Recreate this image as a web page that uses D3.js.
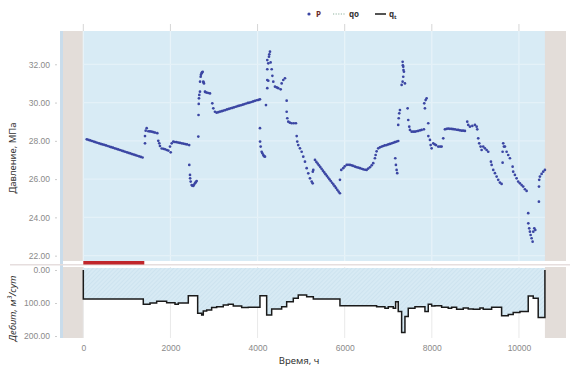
<!DOCTYPE html>
<html>
<head>
<meta charset="utf-8">
<script src="https://cdn.jsdelivr.net/npm/d3@7"></script>
<style>
  html, body { margin: 0; padding: 0; background: #ffffff; }
  svg { display: block; font-family: "Noto Sans", "Open Sans", sans-serif; }
</style>
</head>
<body>
<svg id="chart" width="570" height="366"></svg>
<script>
// Time axis ticks (hours)
const timeTicks = [0, 2000, 4000, 6000, 8000, 10000];
// Pressure axis ticks (MPa)
const pressureTicks = [22, 24, 26, 28, 30, 32];
// Rate axis ticks (m3/day)
const rateTicks = [0, 100, 200];

// Recorded period of the well
const recordStart = 0;
const recordEnd = 10596;
// Highlighted interval on the time axis
const highlightRange = [0, 1400];

// Pressure measurements: [time, h ; pressure, MPa]
const pressurePoints = [
  [80,28.08],[120,28.05],[160,28.02],[200,27.99],[240,27.96],[280,27.93],[320,27.90],[360,27.87],[400,27.84],[440,27.81],
  [480,27.79],[520,27.76],[560,27.73],[600,27.70],[640,27.67],[680,27.64],[720,27.61],[760,27.58],[800,27.55],[840,27.52],
  [880,27.49],[920,27.46],[960,27.43],[1000,27.40],[1040,27.37],[1080,27.34],[1120,27.31],[1160,27.28],[1200,27.25],[1240,27.22],
  [1280,27.19],[1320,27.16],[1360,27.13],
  [1416,27.87],[1416,28.25],[1432,28.53],[1455,28.66],[1492,28.50],[1530,28.49],[1570,28.48],[1610,28.45],[1646,28.43],[1698,28.40],
  [1721,28.00],[1744,27.87],[1760,27.73],[1799,27.60],[1840,27.58],[1876,27.56],[1915,27.52],[1951,27.49],[2006,27.40],
  [1990,27.70],[2029,27.87],[2066,27.96],[2100,27.94],[2140,27.93],[2180,27.91],[2220,27.89],[2260,27.87],[2300,27.85],[2340,27.83],[2380,27.81],[2430,27.78],
  [2433,26.74],[2449,26.22],[2452,26.04],[2465,25.87],[2488,25.69],[2500,25.66],[2524,25.64],[2540,25.70],[2563,25.78],[2580,25.84],[2602,25.90],
  [2640,28.22],[2645,29.35],[2650,29.93],[2655,30.22],[2662,30.40],[2678,30.57],[2680,31.09],[2694,31.35],[2700,31.45],[2717,31.53],
  [2725,31.58],[2740,31.61],[2754,31.09],[2760,31.05],[2770,31.00],[2793,30.57],[2800,30.55],[2832,30.52],[2870,30.50],[2908,30.48],
  [2961,29.96],[2984,29.70],[3022,29.52],
  [3060,29.47],[3100,29.50],[3140,29.53],[3180,29.55],[3220,29.58],[3260,29.61],[3300,29.64],[3340,29.67],[3380,29.70],[3420,29.72],
  [3460,29.75],[3500,29.78],[3540,29.81],[3580,29.84],[3620,29.86],[3660,29.89],[3700,29.92],[3740,29.95],[3780,29.98],[3820,30.00],
  [3860,30.03],[3900,30.06],[3940,30.09],[3980,30.12],[4020,30.14],[4055,30.17],
  [4055,28.66],[4058,27.96],[4071,27.70],[4094,27.43],[4110,27.35],[4131,27.26],[4150,27.20],[4170,27.17],
  [4193,29.87],[4223,30.75],[4223,31.18],[4223,31.74],[4223,32.22],[4246,32.05],[4246,31.14],[4262,32.40],[4270,32.52],[4285,32.66],
  [4300,32.10],[4324,31.74],[4340,31.40],[4361,31.09],[4400,30.83],[4440,30.79],[4475,30.75],[4530,30.69],[4553,31.00],[4590,31.18],[4629,31.27],
  [4668,30.10],[4668,29.52],[4682,29.18],[4705,29.00],[4740,28.95],[4782,28.92],[4830,28.92],[4881,28.92],
  [4898,28.25],[4911,27.96],[4934,27.78],[4973,27.61],[5012,27.43],[5049,27.17],[5088,26.91],[5127,26.57],[5164,26.30],[5203,26.04],
  [5242,25.87],[5265,25.78],[5279,26.48],[5268,26.39],
  [5318,27.00],[5350,26.90],[5380,26.81],[5410,26.72],[5440,26.63],[5470,26.54],[5500,26.44],[5530,26.35],[5560,26.26],[5590,26.17],
  [5620,26.08],[5650,25.99],[5680,25.90],[5710,25.81],[5740,25.72],[5770,25.63],[5800,25.54],[5830,25.44],[5860,25.35],[5890,25.26],
  [5891,25.96],[5922,26.48],[5967,26.57],[6000,26.66],[6045,26.74],[6080,26.75],[6121,26.74],[6160,26.72],[6197,26.69],[6240,26.65],
  [6274,26.62],[6310,26.60],[6350,26.57],[6390,26.54],[6426,26.51],[6470,26.49],[6504,26.48],[6540,26.55],[6580,26.62],[6620,26.72],
  [6655,26.83],[6694,27.09],[6710,27.26],[6733,27.45],[6770,27.61],[6809,27.66],[6850,27.70],[6885,27.73],[6920,27.76],[6963,27.78],
  [7000,27.81],[7038,27.84],[7080,27.87],[7115,27.90],[7150,27.93],[7192,27.96],[7229,27.99],
  [7161,27.09],[7176,26.74],[7192,26.48],[7206,26.31],
  [7229,28.83],[7240,29.18],[7252,29.44],[7268,29.61],
  [7307,30.92],[7330,31.09],[7344,31.35],[7360,31.61],[7344,31.87],[7330,32.13],[7335,31.95],[7350,31.70],
  [7383,31.00],[7445,29.70],[7459,29.09],[7482,28.74],[7498,28.57],[7537,28.48],[7575,28.48],[7613,28.48],[7650,28.50],[7688,28.52],
  [7730,28.55],[7766,28.57],[7819,28.60],
  [7842,29.70],[7826,29.96],[7858,30.13],[7881,30.22],
  [7918,28.92],[7920,28.25],[7957,28.05],[7973,27.78],[7996,27.61],[8033,27.87],[8065,27.82],[8095,27.78],[8147,27.70],[8190,27.70],[8225,27.70],
  [8262,28.13],[8301,28.60],[8340,28.62],[8377,28.64],[8415,28.63],[8455,28.62],[8490,28.61],[8530,28.60],[8570,28.58],[8606,28.57],
  [8645,28.55],[8684,28.53],[8720,28.53],[8760,28.52],
  [8813,29.00],[8836,28.83],[8875,28.74],[8930,28.78],[8990,28.83],[9029,28.74],[9043,28.60],
  [9065,28.13],[9088,27.87],[9120,27.70],[9143,27.52],[9180,27.70],[9219,27.61],[9258,27.52],[9295,27.43],
  [9357,26.91],[9373,26.74],[9410,26.48],[9449,26.31],[9488,26.13],[9524,25.96],[9563,25.82],[9602,25.75],
  [9625,26.86],[9625,27.43],[9639,27.87],[9655,27.70],[9678,27.70],[9717,27.43],[9754,27.26],[9793,27.09],
  [9855,26.65],[9868,26.39],[9907,26.22],[9946,26.04],[9983,25.87],[10022,25.78],[10061,25.69],[10098,25.61],[10137,25.47],[10176,25.38],
  [10213,24.22],[10215,23.69],[10236,23.43],[10252,23.25],[10268,23.08],[10291,22.91],[10314,22.73],
  [10329,23.25],[10352,23.43],[10375,23.34],
  [10458,24.82],[10460,25.61],[10465,25.96],[10481,26.13],[10520,26.27],[10557,26.39],[10596,26.48]
];

// Total rate history q_t: each step starts at the given time (h) and holds the rate (m3/day)
const rateStepTime = [0, 0, 1377, 1531, 1684, 1913, 2105, 2181, 2410, 2625, 2717, 2754, 2832, 2946, 3061, 3213, 3328, 3443, 3635, 3787,
  4055, 4209, 4324, 4553, 4668, 4820, 4934, 5127, 5280, 5891, 6733, 6924, 7000, 7115, 7169, 7229, 7307, 7383, 7459, 7613,
  7842, 7918, 7996, 8071, 8225, 8377, 8455, 8569, 8721, 8836, 8951, 9104, 9180, 9373, 9602, 9754, 9868, 10022, 10213, 10328,
  10442, 10596];
const rateStepValue = [0, 88, 104, 100, 95, 99, 104, 100, 78, 131, 136, 124, 121, 114, 111, 106, 104, 109, 114, 113,
  78, 136, 118, 111, 96, 86, 76, 81, 88, 108, 111, 116, 111, 116, 96, 126, 189, 141, 116, 111,
  126, 104, 109, 108, 113, 116, 113, 119, 115, 118, 119, 115, 119, 113, 139, 135, 129, 126, 79, 86,
  144, 0];

const svg = d3.select("#chart");

// Layout
const plotLeft = 60, plotRight = 566;
const topPanel = { top: 31, bottom: 261 };
const lowPanel = { top: 267, bottom: 338 };

const x = d3.scaleLinear().domain([-535, 11080]).range([plotLeft, plotRight]);
const yP = d3.scaleLinear().domain([21.72, 33.74]).range([topPanel.bottom, topPanel.top]);
const yQ = d3.scaleLinear().domain([-9, 206]).range([lowPanel.top, lowPanel.bottom]);

// Hatch for the rate area
const defs = svg.append("defs");
const pat = defs.append("pattern")
  .attr("id", "hatch").attr("width", 3).attr("height", 3)
  .attr("patternUnits", "userSpaceOnUse").attr("patternTransform", "rotate(45)");
pat.append("rect").attr("width", 3).attr("height", 3).attr("fill", "#d7eaf4");
pat.append("line").attr("x1", 0).attr("y1", 0).attr("x2", 0).attr("y2", 3)
  .attr("stroke", "#c3dcea").attr("stroke-width", 1);

// Panel backgrounds
svg.append("rect").attr("x", plotLeft).attr("y", topPanel.top)
  .attr("width", plotRight - plotLeft).attr("height", topPanel.bottom - topPanel.top)
  .attr("fill", "#d8ebf5");
svg.append("rect").attr("x", plotLeft).attr("y", lowPanel.top)
  .attr("width", plotRight - plotLeft).attr("height", lowPanel.bottom - lowPanel.top)
  .attr("fill", "#ffffff");
// thin blue edge at the left of both panels
svg.append("rect").attr("x", plotLeft).attr("y", topPanel.top)
  .attr("width", 3).attr("height", lowPanel.bottom - topPanel.top)
  .attr("fill", "#c9dceb");

// Out-of-record zones
const greyFill = "#e3ddd9";
[[x.invert(plotLeft + 3), recordStart], [recordEnd, x.domain()[1]]].forEach(([a, b]) => {
  [topPanel, lowPanel].forEach(p => {
    svg.append("rect").attr("x", x(a)).attr("y", p.top)
      .attr("width", x(b) - x(a)).attr("height", p.bottom - p.top)
      .attr("fill", greyFill);
  });
});

// Separator between panels
svg.append("line").attr("x1", 10).attr("x2", 570)
  .attr("y1", 264.8).attr("y2", 264.8)
  .attr("stroke", "#e6dede").attr("stroke-width", 1.5);

// Grid: upper panel
const gUp = svg.append("g");
gUp.selectAll("line.v").data(timeTicks).join("line")
  .attr("x1", d => x(d)).attr("x2", d => x(d))
  .attr("y1", topPanel.top).attr("y2", topPanel.bottom)
  .attr("stroke", "#e8f3f9").attr("stroke-width", 1.2);
gUp.selectAll("line.h").data(pressureTicks).join("line")
  .attr("x1", x(recordStart)).attr("x2", x(recordEnd))
  .attr("y1", d => yP(d)).attr("y2", d => yP(d))
  .attr("stroke", "#e4f1f8").attr("stroke-width", 1.2);
// tick marks above the upper panel
svg.selectAll("line.topTick").data(timeTicks).join("line")
  .attr("x1", d => x(d)).attr("x2", d => x(d))
  .attr("y1", 24).attr("y2", topPanel.top)
  .attr("stroke", "#d6d6d6").attr("stroke-width", 1);

// Grid: lower panel
svg.selectAll("line.lowV").data(timeTicks).join("line")
  .attr("x1", d => x(d)).attr("x2", d => x(d))
  .attr("y1", lowPanel.top).attr("y2", lowPanel.bottom)
  .attr("stroke", "#e9e9e9").attr("stroke-width", 1);

// Highlighted interval
svg.append("rect")
  .attr("x", x(highlightRange[0])).attr("y", 261)
  .attr("width", x(highlightRange[1]) - x(highlightRange[0])).attr("height", 3.5)
  .attr("fill", "#c0262b");

// Rate area and step line
const rateData = rateStepTime.map((t, i) => [t, rateStepValue[i]]);
const area = d3.area().curve(d3.curveStepAfter)
  .x(d => x(d[0])).y0(yQ(-6)).y1(d => yQ(d[1]));
svg.append("path").datum(rateData).attr("d", area).attr("fill", "url(#hatch)");
const line = d3.line().curve(d3.curveStepAfter)
  .x(d => x(d[0])).y(d => yQ(d[1]));
svg.append("path").datum(rateData).attr("d", line)
  .attr("fill", "none").attr("stroke", "#1a1a1a").attr("stroke-width", 1.5);

// Pressure points
svg.append("g").selectAll("circle").data(pressurePoints).join("circle")
  .attr("cx", d => x(d[0])).attr("cy", d => yP(d[1]))
  .attr("r", 1.35).attr("fill", "#3b46a3");

// Axes
const tickColor = "#8a8a8a";
function styleAxis(g) {
  g.select(".domain").remove();
  g.selectAll(".tick line").attr("stroke", "#cccccc");
  g.selectAll(".tick text").attr("fill", tickColor).style("font-size", "8.5px");
}
svg.append("g").attr("transform", "translate(57,0)")
  .call(d3.axisLeft(yP).tickValues(pressureTicks).tickFormat(d3.format(".2f")).tickSize(2).tickPadding(5))
  .call(styleAxis);
svg.append("g").attr("transform", "translate(57,0)")
  .call(d3.axisLeft(yQ).tickValues(rateTicks).tickFormat(d3.format(".2f")).tickSize(2).tickPadding(5))
  .call(styleAxis);
svg.append("g").attr("transform", `translate(0,${lowPanel.bottom})`)
  .call(d3.axisBottom(x).tickValues(timeTicks).tickFormat(d => String(d)).tickSize(0).tickPadding(7))
  .call(styleAxis);

// Axis titles
svg.append("text")
  .attr("transform", `translate(16,${(topPanel.top + topPanel.bottom) / 2 + 12}) rotate(-90)`)
  .attr("text-anchor", "middle").attr("fill", "#333")
  .style("font-size", "9.5px").text("Давление, МПа");
svg.append("text")
  .attr("transform", `translate(16,${(lowPanel.top + lowPanel.bottom) / 2 + 6}) rotate(-90)`)
  .attr("text-anchor", "middle").attr("fill", "#333")
  .style("font-size", "9.5px").style("font-style", "italic").text("Дебит, м³/сут");
svg.append("text")
  .attr("x", 299).attr("y", 364).attr("text-anchor", "middle").attr("fill", "#333")
  .style("font-size", "9.5px").text("Время, ч");

// Legend
const lg = svg.append("g").style("font-size", "8px").style("font-weight", "bold");
lg.append("circle").attr("cx", 309).attr("cy", 14).attr("r", 1.6).attr("fill", "#3b46a3");
lg.append("text").attr("x", 316).attr("y", 17).attr("fill", "#6a2a2a").text("P");
lg.append("line").attr("x1", 333).attr("x2", 345).attr("y1", 14).attr("y2", 14)
  .attr("stroke", "#8fb3a0").attr("stroke-width", 1.2).attr("stroke-dasharray", "1.2,1.4");
lg.append("text").attr("x", 349).attr("y", 17).attr("fill", "#333").text("qo");
lg.append("line").attr("x1", 375).attr("x2", 386).attr("y1", 14).attr("y2", 14)
  .attr("stroke", "#1a1a1a").attr("stroke-width", 1.5);
const qt = lg.append("text").attr("x", 389).attr("y", 17).attr("fill", "#333");
qt.append("tspan").text("q");
qt.append("tspan").attr("dy", 2).style("font-size", "6px").text("t");
</script>
</body>
</html>
